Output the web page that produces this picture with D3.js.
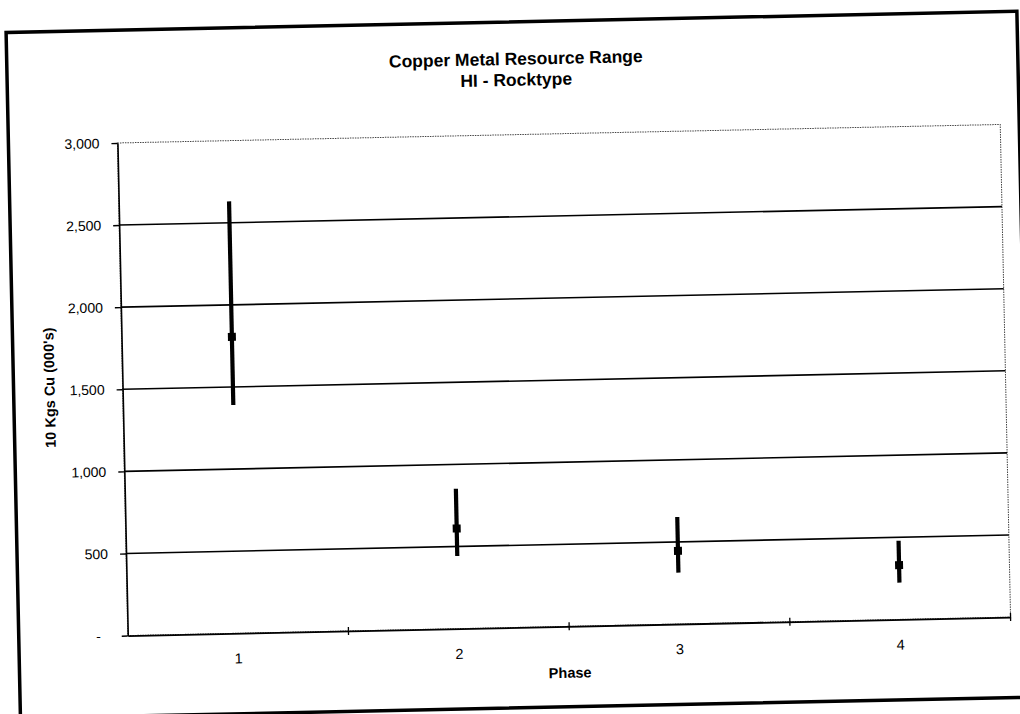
<!DOCTYPE html>
<html lang="en">
<head>
  <meta charset="UTF-8">
  <title>Copper Metal Resource Range</title>
  <script src="https://cdn.jsdelivr.net/npm/d3@7"></script>
  <style>
    body { margin: 0; background: #fff; }
    text { font-family: "Liberation Sans", Arial, sans-serif; fill: #000; }
  </style>
</head>
<body>
<svg></svg>
<script>
  // values (10 Kgs Cu, 000's)
  const phases = ["1", "2", "3", "4"]
  const lowValues = [1390, 442, 313, 224]
  const midValues = [1805, 610, 445, 330]
  const highValues = [2630, 852, 652, 479]
  const yTicks = [0, 500, 1000, 1500, 2000, 2500, 3000]

  const data = phases.map((p, i) => ({phase: p, low: lowValues[i], mid: midValues[i], high: highValues[i]}))

  const width = 1020, height = 714
  const plot = {left: 122, right: 1005, top: 134.8, bottom: 627.5}

  const svg = d3.select('svg')
      .attr('width', width)
      .attr('height', height)
      .attr('viewBox', [0, 0, width, height])

  // the scan is tilted a little, so the whole page is turned
  const g = svg.append('g')
      .attr('transform', 'rotate(-1.2 510 357)')

  g.append('rect')
      .attr('x', 13).attr('y', 22)
      .attr('width', 1011).attr('height', 686)
      .attr('fill', 'none')
      .attr('stroke', '#000')
      .attr('stroke-width', 3.5)

  const x = d3.scaleBand()
      .domain(phases)
      .range([plot.left, plot.right])
      .padding(0)

  const y = d3.scaleLinear()
      .domain([0, 3000])
      .range([plot.bottom, plot.top])

  // plot area border (dotted)
  g.append('rect')
      .attr('x', plot.left).attr('y', plot.top)
      .attr('width', plot.right - plot.left).attr('height', plot.bottom - plot.top)
      .attr('fill', 'none')
      .attr('stroke', '#444')
      .attr('stroke-width', 1)
      .attr('stroke-dasharray', '1.5,1')

  // gridlines
  g.append('g')
      .selectAll('line')
      .data(yTicks.filter(d => d > 0 && d < 3000))
      .join('line')
      .attr('x1', plot.left).attr('x2', plot.right)
      .attr('y1', d => y(d)).attr('y2', d => y(d))
      .attr('stroke', '#000')
      .attr('stroke-width', 1.6)

  // y axis
  const yAxis = g.append('g')
      .attr('transform', `translate(${plot.left},0)`)
      .call(d3.axisLeft(y)
          .tickValues(yTicks)
          .tickSize(6)
          .tickSizeOuter(0)
          .tickPadding(12)
          .tickFormat(d => d === 0 ? '-' : d3.format(',')(d)))
  yAxis.select('.domain').attr('stroke-width', 1.6)
  yAxis.selectAll('.tick line').attr('stroke-width', 1.4)
  yAxis.selectAll('.tick text')
      .style('font-size', '14px')
      .attr('dx', d => d === 0 ? -9 : 0)

  // x axis
  const xAxis = g.append('g')
      .attr('transform', `translate(0,${plot.bottom})`)
      .call(d3.axisBottom(x).tickSize(0).tickPadding(20))
  xAxis.select('.domain').attr('stroke-width', 1.8)
  xAxis.selectAll('.tick text').style('font-size', '14.5px')

  // category separators crossing the axis
  g.append('g')
      .selectAll('line')
      .data(d3.range(1, phases.length + 1))
      .join('line')
      .attr('x1', i => x.range()[0] + i * x.step())
      .attr('x2', i => x.range()[0] + i * x.step())
      .attr('y1', plot.bottom - 4)
      .attr('y2', plot.bottom + 4)
      .attr('stroke', '#000')
      .attr('stroke-width', 1.3)

  // high-low bars
  const cx = d => x(d.phase) + x.bandwidth() / 2
  g.append('g')
      .selectAll('line')
      .data(data)
      .join('line')
      .attr('x1', cx).attr('x2', cx)
      .attr('y1', d => y(d.high)).attr('y2', d => y(d.low))
      .attr('stroke', '#000')
      .attr('stroke-width', 4.2)

  g.append('g')
      .selectAll('rect')
      .data(data)
      .join('rect')
      .attr('x', d => cx(d) - 4)
      .attr('y', d => y(d.mid) - 4)
      .attr('width', 8).attr('height', 8)
      .attr('fill', '#000')

  // titles
  g.append('text')
      .attr('x', 522).attr('y', 65)
      .attr('text-anchor', 'middle')
      .style('font-size', '17.5px').style('font-weight', 'bold')
      .text('Copper Metal Resource Range')
  g.append('text')
      .attr('x', 522).attr('y', 86)
      .attr('text-anchor', 'middle')
      .style('font-size', '17.5px').style('font-weight', 'bold')
      .text('HI - Rocktype')

  g.append('text')
      .attr('transform', 'translate(54,378) rotate(-90)')
      .attr('text-anchor', 'middle')
      .style('font-size', '14.5px').style('font-weight', 'bold')
      .text("10 Kgs Cu (000's)")

  g.append('text')
      .attr('x', (plot.left + plot.right) / 2).attr('y', 679)
      .attr('text-anchor', 'middle')
      .style('font-size', '14.5px').style('font-weight', 'bold')
      .text('Phase')
</script>
</body>
</html>
